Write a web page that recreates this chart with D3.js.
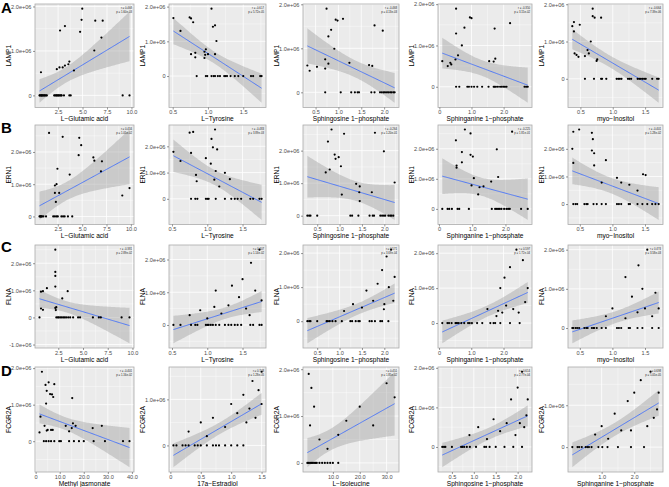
<!DOCTYPE html>
<html><head><meta charset="utf-8">
<script src="https://cdn.jsdelivr.net/npm/d3@7"></script>
<style>body{margin:0;background:#fff}svg{display:block;font-family:"Liberation Sans",Arial,sans-serif}</style>
</head><body><svg id="c" width="669" height="487"></svg>
<script>
// ---------- data (y in units of 1e6) ----------
const rowLetters = ["A","B","C","D"];
const geneNames = ["LAMP1","ERN1","FLNA","FCGR2A"];
const metabNames = [
  ["L\u2212Glutamic acid","L\u2212Tyrosine","Sphingosine 1\u2212phosphate","Sphinganine 1\u2212phosphate","myo\u2212Inositol"],
  ["L\u2212Glutamic acid","L\u2212Tyrosine","Sphingosine 1\u2212phosphate","Sphinganine 1\u2212phosphate","myo\u2212Inositol"],
  ["L\u2212Glutamic acid","L\u2212Tyrosine","Sphingosine 1\u2212phosphate","Sphinganine 1\u2212phosphate","myo\u2212Inositol"],
  ["Methyl jasmonate","17a\u2212Estradiol","L\u2212Isoleucine","Sphingosine 1\u2212phosphate","Sphinganine 1\u2212phosphate"]
];
const xTicks = [
  [[2.5,5,7.5,10],[0.5,1,1.5],[0.5,1,1.5,2],[0,1,2],[0.5,1,1.5]],
  [[2.5,5,7.5,10],[0.5,1,1.5],[0.5,1,1.5,2],[0,1,2],[0.5,1,1.5]],
  [[2.5,5,7.5,10],[0.5,1,1.5],[0.5,1,1.5,2],[0,1,2],[0.5,1,1.5]],
  [[0,10,20,30,40],[0,0.5,1,1.5],[10,20,30],[0.5,1,1.5,2],[1,2]]
];

const ptsA1 = [[0.75,0.52],[4.97,1.95],[4.9,1.7],[3.2,1.56],[2.7,1.46],[4.75,1.43],[6.3,1.68],[7.06,1.68],[6.93,1.3],[6.2,1.01],[2.37,0.59],[2.64,0.63],[2.97,0.63],[3.2,0.67],[3.55,0.7],[3.65,0.76],[4.12,0.56],
  [0.6,0],[0.75,0],[0.92,0],[1.08,0],[1.35,0],[2.2,0],[2.37,0],[2.54,0],[2.71,0],[2.87,0],[3.1,0],[3.65,0],[3.79,0],[9.1,0],[9.8,0],[0.85,0],[1.0,0],[2.3,0],[2.45,0],
  [0.65,0],[0.8,0],[1.15,0],[1.25,0],[2.1,0],[2.6,0],[2.8,0]];
const ptsA2 = [[0.51,1.67],[0.61,1.3],[0.74,1.69],[0.76,1.66],[0.79,1.55],[1.05,1.94],[1.07,1.42],[1.1,1.46],[1.12,1.01],[0.76,0.63],[0.82,0.67],[0.82,0.54],[0.95,0.7],[0.97,0.77],[0.96,0.61],[1.0,0.63],[1.1,0.63],[0.95,0.52],
  [0.84,0],[0.97,0],[0.99,0],[1.05,0],[1.08,0],[1.1,0],[1.14,0],[1.17,0],[1.23,0],[1.25,0],[1.27,0],[1.32,0],[1.38,0],[1.43,0],[1.5,0],[1.61,0],[1.64,0],[1.74,0],[1.76,0]];
const ptsA3 = [[0.32,0.61],[0.37,0.49],[0.53,0.58],[0.74,1.9],[0.94,1.65],[0.98,1.63],[1.1,1.67],[0.84,1.42],[0.78,1.27],[0.91,0.99],[0.71,0.75],[0.78,0.65],[0.71,0.54],[1.24,0.67],[1.67,0.62],[1.74,0.6],[1.79,1.52],[1.97,1.4],
  [0.71,0],[1.05,0],[1.28,0],[1.36,0],[1.42,0],[1.45,0],[1.72,0],[1.79,0],[1.91,0],[1.95,0],[1.99,0],[2.02,0],[2.06,0],[2.09,0],[2.13,0],[2.16,0],[2.2,0],[2.23,0]];
const ptsA4 = [[0.09,0.62],[0.26,0.5],[0.34,0.58],[0.37,0.54],[0.5,0.66],[0.52,1.89],[0.52,1.29],[0.58,0.76],[0.7,1.0],[0.78,1.43],[0.95,1.68],[1.0,1.66],[1.55,0.62],[1.69,0.61],[1.74,0.68],[1.72,1.41],[2.2,1.54],
  [0.52,0],[0.62,0],[0.87,0],[0.92,0],[1.0,0],[1.08,0],[1.18,0],[1.33,0],[1.53,0],[1.69,0],[1.72,0],[1.76,0],[1.82,0],[1.89,0],[1.94,0],[1.99,0],[2.04,0],[2.09,0],[2.65,0],[2.7,0],[2.75,0]];
const ptsA5 = [[0.375,1.41],[0.4,1.52],[0.4,1.27],[0.49,1.45],[0.41,0.68],[0.44,0.64],[0.47,0.59],[0.57,0.61],[0.61,0.77],[0.63,0.68],[0.69,1.88],[0.69,1.68],[0.72,1.64],[0.66,1.0],[0.82,1.64],[0.76,0.52],[0.75,0.48],
  [0.57,0],[0.71,0],[0.82,0],[0.835,0],[0.9,0],[1.06,0],[1.085,0],[1.11,0],[1.135,0],[1.235,0],[1.26,0],[1.285,0],[1.385,0],[1.41,0],[1.435,0],[1.46,0],[1.485,0],[1.51,0],[1.61,0],[1.685,0],[1.71,0]];

const ptsB1 = [[1.6,2.59],[3.0,2.47],[4.7,2.44],[4.9,2.21],[4.64,1.9],[2.46,1.48],[3.72,1.3],[6.15,1.83],[6.25,1.73],[7.03,1.71],[6.93,1.4],[2.2,0.96],[2.37,1.0],[2.2,0.73],[2.64,0.73],[2.3,0.45],[9.86,0.88],[9.12,0.65],
  [0.62,0],[0.75,0],[0.88,0],[1.02,0],[1.29,0],[2.03,0],[2.2,0],[2.37,0],[2.87,0],[3.04,0],[3.2,0],[3.54,0],[3.98,0],[0.7,0],[0.8,0],[2.5,0]];
const ptsB2 = [[0.52,1.79],[0.62,1.44],[0.75,2.52],[0.8,2.55],[0.77,1.75],[0.84,0.91],[0.85,0.67],[0.98,1.55],[1.05,1.34],[1.06,2.28],[1.08,1.96],[1.11,2.64],[1.14,1.88],[1.1,0.73],[1.12,1.06],[1.17,0.47],[1.25,0.99],[1.32,0.75],
  [0.77,0],[0.83,0],[0.86,0],[0.98,0],[1.0,0],[1.02,0],[1.12,0],[1.25,0],[1.34,0],[1.39,0],[1.43,0],[1.48,0],[1.61,0],[1.65,0],[1.74,0],[1.77,0]];
const ptsB3 = [[0.82,2.65],[1.1,2.52],[1.79,2.55],[0.74,2.28],[0.89,1.88],[0.91,1.75],[0.98,1.8],[1.03,1.52],[0.78,1.42],[0.69,1.33],[1.99,1.98],[2.23,1.02],[1.37,0.98],[1.45,0.9],[1.44,0.72],[1.72,0.72],[1.05,0.65],[1.45,0.45],
  [0.28,0],[0.32,0],[0.35,0],[0.5,0],[1.24,0],[1.28,0],[1.42,0],[1.67,0],[1.74,0],[1.77,0],[1.91,0],[1.95,0],[1.99,0],[2.02,0],[2.09,0],[2.13,0],[2.16,0],[2.2,0]];
const ptsB4 = [[0.78,2.64],[0.95,2.51],[0.51,2.28],[0.69,1.89],[0.95,1.8],[1.02,1.74],[0.69,1.55],[0.53,1.44],[0.53,1.37],[1.05,1.02],[0.98,0.78],[1.22,0.72],[1.34,0.75],[1.18,0.48],[1.57,0.91],[1.78,1.06],[1.74,1.98],[2.2,2.57],
  [0.1,0],[0.26,0],[0.31,0],[0.39,0],[0.56,0],[0.61,0],[0.9,0],[1.59,0],[1.69,0],[1.74,0],[1.78,0],[1.83,0],[1.88,0],[1.96,0],[2.03,0],[2.08,0],[2.13,0],[2.47,0],[2.67,0]];
const ptsB5 = [[0.4,2.62],[0.49,2.7],[0.385,2.0],[0.4,1.49],[0.685,2.58],[0.7,2.35],[0.685,1.94],[0.72,1.84],[0.72,1.4],[0.9,1.59],[0.835,0.78],[1.07,0.95],[1.135,0.78],[1.26,0.7],[1.385,0.49],[1.47,1.08],[1.51,1.05],
  [0.4,0],[0.435,0],[0.46,0],[0.57,0],[0.6,0],[0.62,0],[0.71,0],[0.76,0],[0.835,0],[0.9,0],[1.07,0],[1.1,0],[1.135,0],[1.25,0],[1.27,0],[1.385,0],[1.46,0],[1.535,0],[1.61,0],[1.66,0],[1.71,0]];

const ptsC1 = [[0.75,0.95],[0.95,0.97],[1.35,1.08],[0.75,0.33],[0.95,0.28],[2.2,2.5],[2.2,1.68],[2.2,1.53],[2.2,1.14],[2.2,0.35],[2.25,0.27],[2.3,0.38],[3.45,0.97],[2.9,0.7],
  [0.6,0],[2.3,0],[2.45,0],[2.55,0],[2.7,0],[2.85,0],[3.0,0],[3.15,0],[3.3,0],[3.5,0],[3.7,0],[4.0,0],[4.5,0],[4.7,0],[6.0,0],[6.6,0],[6.8,0],[8.9,0],[9.7,0]];
const ptsC2 = [[0.75,0.3],[0.9,0.45],[1.0,0.2],[1.1,0.55],[1.12,1.05],[1.2,0.35],[1.3,0.6],[1.45,0.85],[1.5,1.4],[1.55,0.5],[1.62,1.9],[1.68,1.05],[1.74,2.3],[1.77,0.75],[1.35,1.2],[1.6,0.3],
  [0.52,0],[0.62,0],[0.77,0],[0.83,0],[0.86,0],[0.98,0],[1.0,0],[1.02,0],[1.05,0],[1.08,0],[1.12,0],[1.17,0],[1.25,0],[1.3,0],[1.34,0],[1.39,0],[1.43,0],[1.48,0],[1.61,0],[1.65,0],[1.74,0],[1.77,0]];
const ptsC3 = [[1.1,0.3],[1.3,0.5],[1.5,0.4],[1.6,0.9],[1.75,0.6],[1.85,1.1],[1.95,1.5],[2.0,0.5],[2.05,1.9],[2.1,1.0],[2.15,2.1],[2.2,0.6],[1.99,0.35],[2.23,1.3],
  [0.28,0],[0.32,0],[0.35,0],[0.5,0],[0.71,0],[0.74,0],[0.78,0],[0.84,0],[0.91,0],[1.05,0],[1.24,0],[1.28,0],[1.36,0],[1.42,0],[1.45,0],[1.67,0],[1.72,0],[1.79,0],[1.91,0],[1.95,0],[2.09,0]];
const ptsC4 = [[1.5,0.4],[1.78,0.2],[1.83,0.35],[1.9,1.0],[1.96,0.3],[2.03,1.3],[2.08,0.5],[2.2,1.6],[2.3,0.4],[2.4,2.1],[2.47,0.3],[2.6,1.8],[2.67,0.6],[2.75,1.0],
  [0.1,0],[0.26,0],[0.31,0],[0.39,0],[0.51,0],[0.53,0],[0.56,0],[0.61,0],[0.69,0],[0.78,0],[0.9,0],[0.95,0],[1.02,0],[1.18,0],[1.34,0],[1.59,0],[1.69,0],[1.74,0],[1.9,0],[2.2,0],[2.5,0]];
const ptsC5 = [[0.9,0.3],[1.0,0.5],[1.2,0.25],[1.3,0.8],[1.385,0.4],[1.46,1.0],[1.5,0.5],[1.535,2.0],[1.61,0.3],[1.66,0.9],[1.71,0.5],[1.2,1.3],[1.4,1.6],
  [0.385,0],[0.4,0],[0.435,0],[0.46,0],[0.49,0],[0.57,0],[0.6,0],[0.62,0],[0.685,0],[0.71,0],[0.72,0],[0.76,0],[0.835,0],[0.9,0],[1.07,0],[1.1,0],[1.135,0],[1.25,0],[1.27,0],[1.385,0],[1.46,0],[1.61,0],[1.71,0]];

const ptsD1 = [[2.6,1.9],[4.1,1.54],[5.4,1.61],[4.6,1.38],[4.35,1.03],[6.0,1.29],[6.8,1.28],[7.3,1.21],[7.75,1.56],[15.2,1.18],[2.0,0.67],[1.6,0.24],[3.7,0.42],[4.6,0.29],[5.0,0.31],[6.4,0.31],[7.1,0.31],[12.5,0.42],[15.5,0.49],[16.6,0.42],[13.9,0.27],[15.0,0.36],[23.7,0.36],[27.5,0.42],
  [3.4,0],[4.35,0],[5.4,0],[6.4,0],[7.75,0],[9.8,0],[10.5,0],[13.9,0],[15.9,0],[18.0,0],[20.0,0],[24.1,0],[28.8,0],[36.3,0],[39.0,0]];
const ptsD2 = [[0.3,0.3],[0.5,0.5],[0.6,0.2],[0.7,0.6],[0.9,0.4],[1.0,0.9],[1.1,0.7],[1.2,1.1],[1.25,0.5],[1.3,0.8],[1.35,1.4],[1.4,0.6],[1.45,1.2],[1.5,0.9],[1.5,1.6],
  [0.05,0],[0.1,0],[0.2,0],[0.25,0],[0.3,0],[0.4,0],[0.45,0],[0.5,0],[0.6,0],[0.7,0],[0.75,0],[0.8,0],[0.9,0],[1.0,0],[1.1,0],[1.2,0]];
const ptsD3 = [[1,1.9],[2,1.6],[3,1.2],[1.5,0.8],[5,0.5],[8,0.3],[12,0.6],[15,0.9],[20,1.2],[25,0.8],[30,1.7],[33,1.4],
  [0.5,0],[1,0],[1.5,0],[2,0],[2.5,0],[3,0],[3.5,0],[4,0],[5,0],[6,0],[7,0],[8,0],[9,0],[10,0],[12,0]];
const ptsD4 = [[0.9,0.3],[1.1,0.5],[1.3,0.2],[1.45,0.7],[1.6,0.4],[1.75,0.6],[1.85,1.2],[1.95,0.3],[2.0,1.5],[2.05,0.6],[2.1,1.9],[2.15,0.5],[2.2,0.8],[2.23,1.2],
  [0.28,0],[0.32,0],[0.35,0],[0.5,0],[0.71,0],[0.74,0],[0.78,0],[0.84,0],[0.91,0],[1.05,0],[1.24,0],[1.28,0],[1.36,0],[1.5,0],[1.7,0],[1.9,0],[2.1,0]];
const ptsD5 = [[0.8,0.3],[1.0,0.5],[1.2,0.2],[1.4,0.8],[1.6,0.4],[1.8,1.1],[1.9,0.4],[2.0,1.3],[2.2,1.6],[2.4,0.5],[2.5,1.8],[2.6,0.7],[2.7,0.9],[2.75,1.3],
  [0.1,0],[0.26,0],[0.31,0],[0.39,0],[0.51,0],[0.56,0],[0.61,0],[0.69,0],[0.9,0],[1.02,0],[1.18,0],[1.5,0],[1.9,0],[2.3,0]];

const panelPts = [
  [ptsA1,ptsA2,ptsA3,ptsA4,ptsA5],
  [ptsB1,ptsB2,ptsB3,ptsB4,ptsB5],
  [ptsC1,ptsC2,ptsC3,ptsC4,ptsC5],
  [ptsD1,ptsD2,ptsD3,ptsD4,ptsD5]
];

// ---------- layout ----------
const colX = [[35,134],[169,266],[303,399],[438,532],[568,663]];
const rowY = [[4,107.5],[125,224.5],[245,348],[367,472]];
const letterY = [13,133,252,376];

const svg = d3.select("#c");

function lmFit(pts){
  const n = pts.length;
  const mx = d3.mean(pts,d=>d[0]), my = d3.mean(pts,d=>d[1]);
  let sxx=0,sxy=0,syy=0;
  pts.forEach(([x,y])=>{sxx+=(x-mx)**2;sxy+=(x-mx)*(y-my);syy+=(y-my)**2;});
  const b = sxy/sxx, a = my-b*mx;
  let sse=0; pts.forEach(([x,y])=>{sse+=(y-a-b*x)**2;});
  const df=n-2, s=Math.sqrt(sse/df), tq=1.96+2.37/df+2.8/(df*df);
  const [x0,x1]=d3.extent(pts,d=>d[0]);
  const band = d3.range(80).map(i=>{
    const x=x0+(x1-x0)*i/79, yh=a+b*x, se=s*Math.sqrt(1/n+(x-mx)**2/sxx);
    return {x, y:yh, lo:yh-tq*se, hi:yh+tq*se};
  });
  const r = sxy/Math.sqrt(sxx*syy);
  const t = Math.abs(r)*Math.sqrt(df/(1-r*r));
  const z = t*(1-1/(4*df))/Math.sqrt(1+t*t/(2*df));
  const p = 2*(1-normCdf(z));
  return {a,b,band,r,p};
}
function normCdf(z){
  const t=1/(1+0.2316419*z);
  const d=0.3989423*Math.exp(-z*z/2);
  return 1-d*t*(0.3193815+t*(-0.3565638+t*(1.781478+t*(-1.821256+t*1.330274))));
}
const fmtY = v => Math.abs(v)<1e-9 ? "0" : (v<0?"-":"")+(Math.abs(v)/1e6).toFixed(1)+"e+06";
const fmtX = v => v===0 ? "0" : v.toFixed(1);
const fmtP = p => { let s=p.toExponential(2); return s.replace(/e([+-])(\d)$/,"e$10$2"); };

panelPts.forEach((row,ri)=>{
  svg.append("text").attr("x",1).attr("y",letterY[ri]).attr("font-size",15).attr("font-weight","bold")
    .attr("font-family","Liberation Sans, Arial, sans-serif").text(rowLetters[ri]);
  row.forEach((raw,ci)=>{
    const pts = raw.map(([x,y])=>[x,y*1e6]);
    const fit = lmFit(pts);
    const [L,R]=colX[ci], [T,B]=rowY[ri];
    const xe = d3.extent(pts,d=>d[0]);
    const xs = xe[1]-xe[0];
    const x = d3.scaleLinear().domain([xe[0]-0.05*xs, xe[1]+0.05*xs]).range([L,R]);
    const ylo = Math.min(d3.min(pts,d=>d[1]), d3.min(fit.band,d=>d.lo));
    const yhi = Math.max(d3.max(pts,d=>d[1]), d3.max(fit.band,d=>d.hi));
    const ys = yhi-ylo;
    const y = d3.scaleLinear().domain([ylo-0.05*ys, yhi+0.05*ys]).range([B,T]);
    const g = svg.append("g");
    g.append("rect").attr("x",L).attr("y",T).attr("width",R-L).attr("height",B-T).attr("fill","#EBEBEB");
    const [yd0,yd1]=y.domain();
    const yMaj = d3.range(Math.ceil(yd0/1e6),Math.floor(yd1/1e6)+1).map(k=>k*1e6);
    const yMin = d3.range(Math.ceil(yd0/1e6-0.5),Math.floor(yd1/1e6-0.5)+1).map(k=>(k+0.5)*1e6);
    const xt = xTicks[ri][ci];
    const step = xt[1]-xt[0];
    const [xd0,xd1]=x.domain();
    const xMaj = xt.filter(v=>v>=xd0&&v<=xd1);
    const xMin = d3.range(-2,xt.length+2).map(k=>xt[0]+(k+0.5)*step).filter(v=>v>=xd0&&v<=xd1);
    g.selectAll(null).data(yMin).join("line").attr("x1",L).attr("x2",R).attr("y1",d=>y(d)).attr("y2",d=>y(d)).attr("stroke","#fff").attr("stroke-width",0.4);
    g.selectAll(null).data(xMin).join("line").attr("y1",T).attr("y2",B).attr("x1",d=>x(d)).attr("x2",d=>x(d)).attr("stroke","#fff").attr("stroke-width",0.4);
    g.selectAll(null).data(yMaj).join("line").attr("x1",L).attr("x2",R).attr("y1",d=>y(d)).attr("y2",d=>y(d)).attr("stroke","#fff").attr("stroke-width",0.8);
    g.selectAll(null).data(xMaj).join("line").attr("y1",T).attr("y2",B).attr("x1",d=>x(d)).attr("x2",d=>x(d)).attr("stroke","#fff").attr("stroke-width",0.8);
    g.append("path").datum(fit.band).attr("fill","#999999").attr("fill-opacity",0.4)
      .attr("d",d3.area().x(d=>x(d.x)).y0(d=>y(d.lo)).y1(d=>y(d.hi)));
    g.append("path").datum(fit.band).attr("fill","none").attr("stroke","#3366FF").attr("stroke-width",0.8)
      .attr("d",d3.line().x(d=>x(d.x)).y(d=>y(d.y)));
    g.selectAll(null).data(pts).join("circle").attr("cx",d=>x(d[0])).attr("cy",d=>y(d[1])).attr("r",1.1).attr("fill","#000");
    g.append("rect").attr("x",L).attr("y",T).attr("width",R-L).attr("height",B-T).attr("fill","none").attr("stroke","#ABABAB").attr("stroke-width",0.8);
    g.append("text").attr("x",R-2).attr("y",T+5).attr("text-anchor","end").attr("font-size",2.8).attr("fill","#222").text("r = "+fit.r.toFixed(3));
    g.append("text").attr("x",R-2).attr("y",T+8.5).attr("text-anchor","end").attr("font-size",2.8).attr("fill","#222").text("p = "+fmtP(fit.p));
    const ay = g.append("g").attr("transform",`translate(${L},0)`)
      .call(d3.axisLeft(y).tickValues(yMaj).tickFormat(fmtY).tickSize(2).tickPadding(1.5));
    const ax = g.append("g").attr("transform",`translate(0,${B})`)
      .call(d3.axisBottom(x).tickValues(xMaj).tickFormat(fmtX).tickSize(2).tickPadding(1));
    [ay,ax].forEach(a=>{a.select(".domain").remove();
      a.selectAll(".tick line").attr("stroke","#333").attr("stroke-width",0.5);
      a.selectAll(".tick text").attr("fill","#4D4D4D").attr("font-size",5.6).attr("font-family","Liberation Sans, Arial, sans-serif");});
    g.append("text").attr("x",(L+R)/2).attr("y",B+13.5).attr("text-anchor","middle").attr("font-size",6.6).text(metabNames[ri][ci]);
    g.append("text").attr("transform",`translate(${L-24},${(T+B)/2}) rotate(-90)`).attr("text-anchor","middle").attr("font-size",6.6).text(geneNames[ri]);
  });
});
</script></body></html>
